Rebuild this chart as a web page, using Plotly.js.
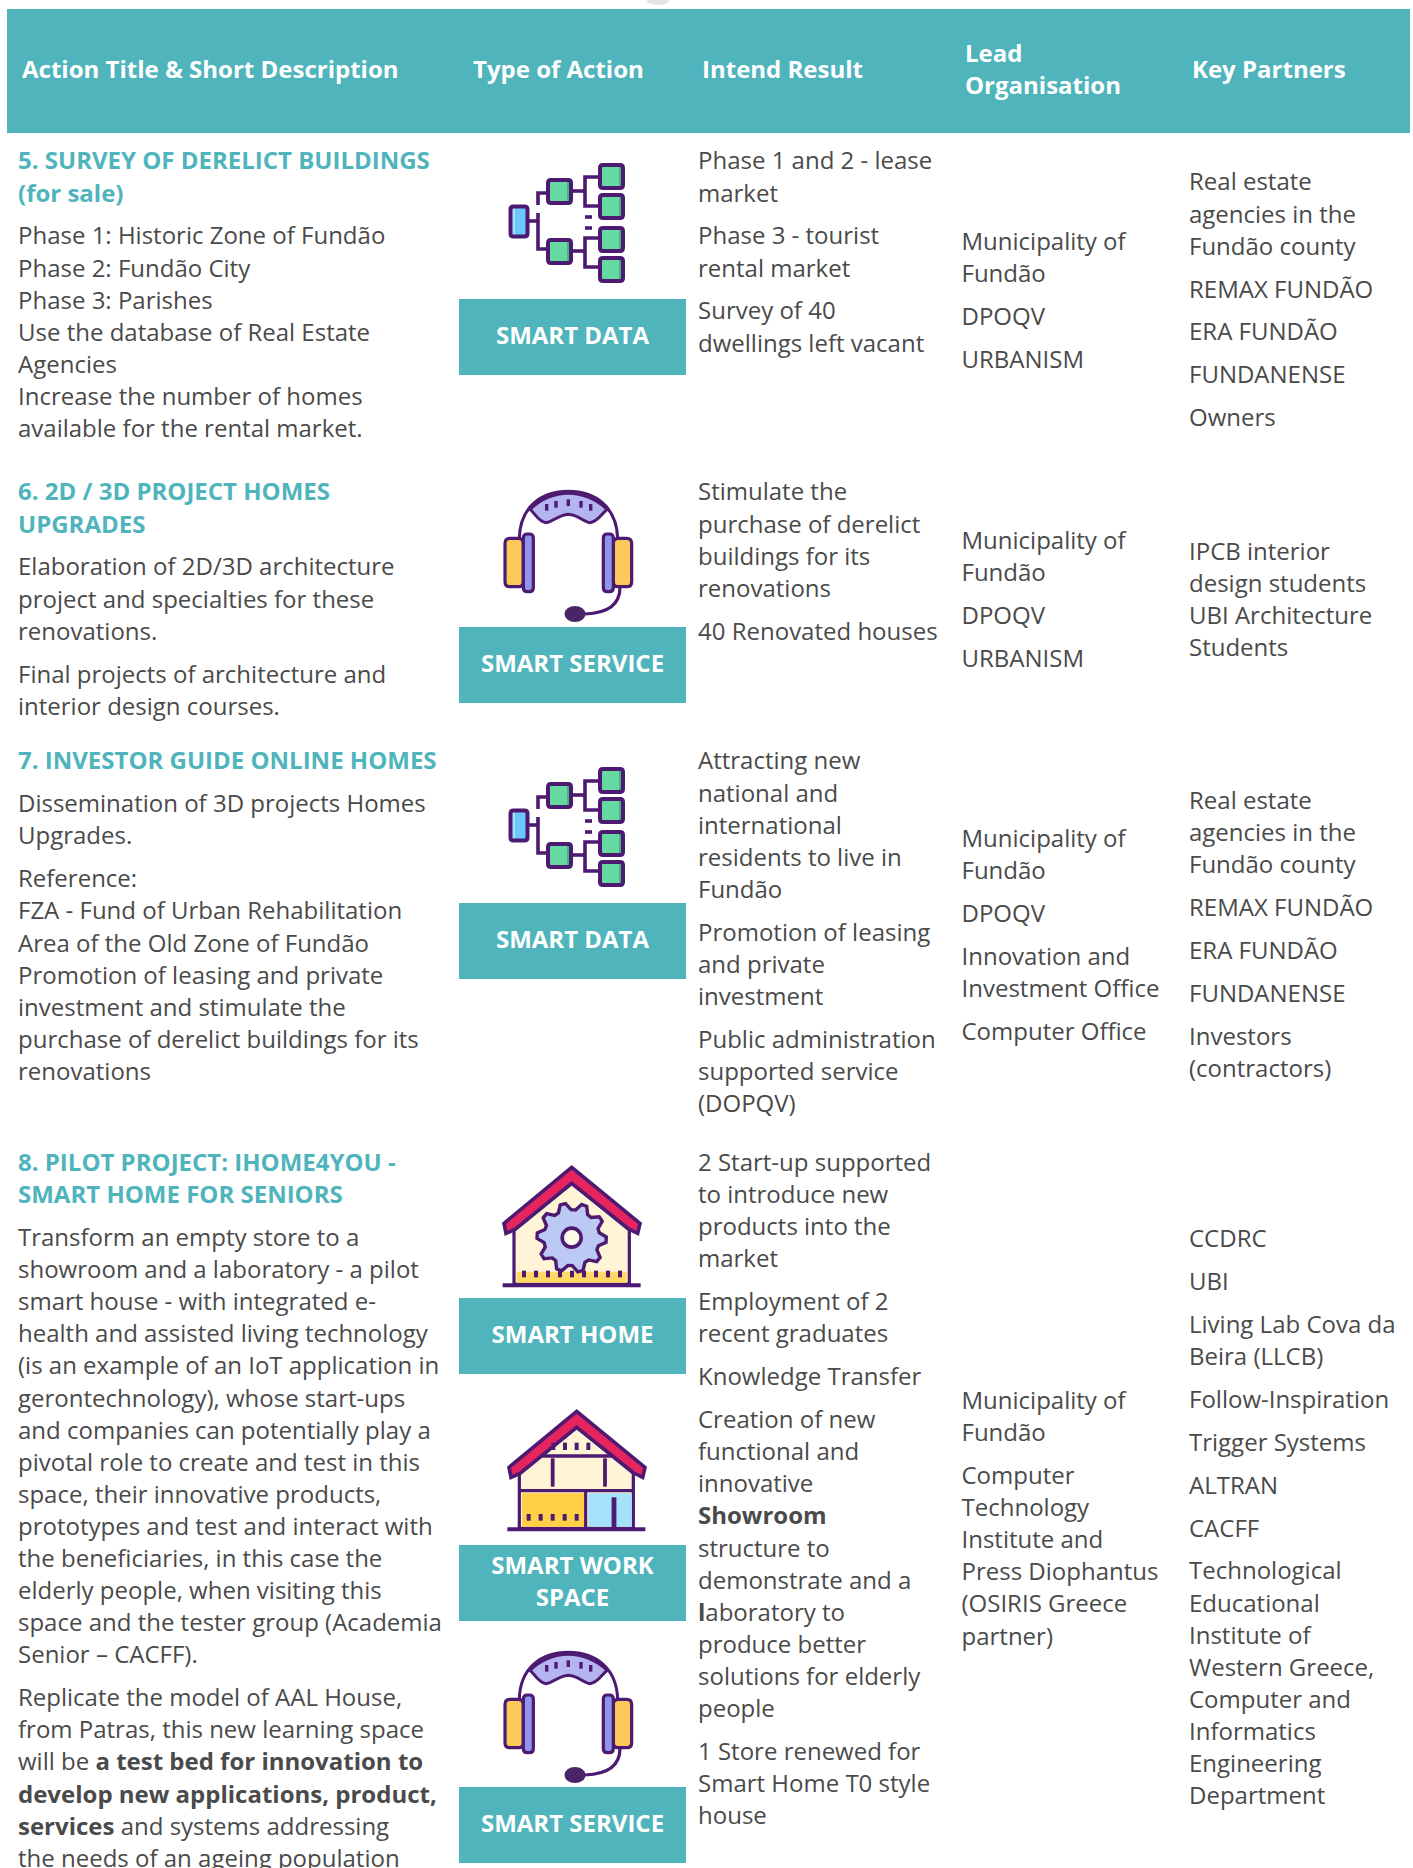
<!DOCTYPE html>
<html>
<head>
<meta charset="utf-8">
<script src="https://cdn.plot.ly/plotly-3.0.1.min.js"></script>
<style>html,body{margin:0;padding:0;background:#fff}#chart{width:1413px;height:1868px}</style>
</head>
<body>
<div id="chart"></div>
<script>
// ---------- Table content ----------
const headers = ["Action Title & Short Description", "Type of Action", "Intend Result", "Lead<br>Organisation", "Key Partners"];

const titles = [
  ["5. SURVEY OF DERELICT BUILDINGS", "(for sale)"],
  ["6. 2D / 3D PROJECT HOMES", "UPGRADES"],
  ["7. INVESTOR GUIDE ONLINE HOMES"],
  ["8. PILOT PROJECT: IHOME4YOU -", "SMART HOME FOR SENIORS"]
];
const descriptions = [
  [["Phase 1: Historic Zone of Fundão", "Phase 2: Fundão City", "Phase 3: Parishes", "Use the database of Real Estate", "Agencies", "Increase the number of homes", "available for the rental market."]],
  [["Elaboration of 2D/3D architecture", "project and specialties for these", "renovations."], ["Final projects of architecture and", "interior design courses."]],
  [["Dissemination of 3D projects Homes", "Upgrades."], ["Reference:", "FZA - Fund of Urban Rehabilitation", "Area of the Old Zone of Fundão", "Promotion of leasing and private", "investment and stimulate the", "purchase of derelict buildings for its", "renovations"]],
  [["Transform an empty store to a", "showroom and a laboratory - a pilot", "smart house - with integrated e-", "health and assisted living technology", "(is an example of an IoT application in", "gerontechnology), whose start-ups", "and companies can potentially play a", "pivotal role to create and test in this", "space, their innovative products,", "prototypes and test and interact with", "the beneficiaries, in this case the", "elderly people, when visiting this", "space and the tester group (Academia", "Senior – CACFF)."],
   ["Replicate the model of AAL House,", "from Patras, this new learning space", "will be <b>a test bed for innovation to</b>", "<b>develop new applications, product,</b>", "<b>services</b> and systems addressing", "the needs of an ageing population"]]
];
const results = [
  [["Phase 1 and 2 - lease", "market"], ["Phase 3 - tourist", "rental market"], ["Survey of 40", "dwellings left vacant"]],
  [["Stimulate the", "purchase of derelict", "buildings for its", "renovations"], ["40 Renovated houses"]],
  [["Attracting new", "national and", "international", "residents to live in", "Fundão"], ["Promotion of leasing", "and private", "investment"], ["Public administration", "supported service", "(DOPQV)"]],
  [["2 Start-up supported", "to introduce new", "products into the", "market"], ["Employment of 2", "recent graduates"], ["Knowledge Transfer"], ["Creation of new", "functional and", "innovative", "<b>Showroom</b>", "structure to", "demonstrate and a", "<b>l</b>aboratory to", "produce better", "solutions for elderly", "people"], ["1 Store renewed for", "Smart Home T0 style", "house"]]
];
const leads = [
  [["Municipality of", "Fundão"], ["DPOQV"], ["URBANISM"]],
  [["Municipality of", "Fundão"], ["DPOQV"], ["URBANISM"]],
  [["Municipality of", "Fundão"], ["DPOQV"], ["Innovation and", "Investment Office"], ["Computer Office"]],
  [["Municipality of", "Fundão"], ["Computer", "Technology", "Institute and", "Press Diophantus", "(OSIRIS Greece", "partner)"]]
];
const partners = [
  [["Real estate", "agencies in the", "Fundão county"], ["REMAX FUNDÃO"], ["ERA FUNDÃO"], ["FUNDANENSE"], ["Owners"]],
  [["IPCB interior", "design students", "UBI Architecture", "Students"]],
  [["Real estate", "agencies in the", "Fundão county"], ["REMAX FUNDÃO"], ["ERA FUNDÃO"], ["FUNDANENSE"], ["Investors", "(contractors)"]],
  [["CCDRC"], ["UBI"], ["Living Lab Cova da", "Beira (LLCB)"], ["Follow-Inspiration"], ["Trigger Systems"], ["ALTRAN"], ["CACFF"], ["Technological", "Educational", "Institute of", "Western Greece,", "Computer and", "Informatics", "Engineering", "Department"]]
];
const typeLabels = ["SMART DATA", "SMART SERVICE", "SMART DATA", "SMART HOME", "SMART WORK<br>SPACE", "SMART SERVICE"];

// ---------- Layout ----------
const TEAL = "#4fb4bb", TEXT = "#4a4a4a", PURPLE = "#4d1a72";
const FONT = "'Open Sans', sans-serif";
const LINE = 32.1, PARA = 42.9, BODY = 24, HEAD = 24;
const rowTop = [163.4, 494.4, 763.4, 1165];
const colX = {title: 18, result: 698, lead: 961.5, partner: 1189};
const leadTop = [244, 543, 841, 1403];
const partnerTop = [184.4, 554, 803, 1241];
const headerX = [22, 473, 702, 965, 1192];
const headerY = [72, 72, 72, 72, 72];
const boxTops = [299, 627, 903, 1298, 1545, 1787];
const BOX = {x0: 459, x1: 686, h: 76};

const tx = [], ty = [], tt = [], tc = [];
function put(x, y, s, c) { tx.push(x); ty.push(y); tt.push(s); tc.push(c); }
function block(x, y, paragraphs, color, bold) {
  paragraphs.forEach((p, i) => {
    if (i) y += PARA - LINE;
    p.forEach(l => { put(x, y, bold ? "<b>" + l + "</b>" : l, color); y += LINE; });
  });
  return y;
}
rowTop.forEach((top, r) => {
  let y = block(colX.title, top, [titles[r]], TEAL, true);
  block(colX.title, y + PARA - LINE, descriptions[r], TEXT);
  block(colX.result, top, results[r], TEXT);
  block(colX.lead, leadTop[r], leads[r], TEXT);
  block(colX.partner, partnerTop[r], partners[r], TEXT);
});

// ---------- Shapes ----------
const shapes = [];
const ICON_W = 4;
function rect(x0, y0, x1, y1, fill) {
  shapes.push({type: "rect", x0, y0, x1, y1, fillcolor: fill, line: {width: 0}, layer: "below"});
}
function path(d, fill, w, color) {
  shapes.push({type: "path", path: d, fillcolor: fill || "rgba(0,0,0,0)", line: {width: w === undefined ? ICON_W : w, color: color || PURPLE}, layer: "below"});
}
function rrectPath(x0, y0, x1, y1, r) {
  return `M${x0 + r},${y0} L${x1 - r},${y0} Q${x1},${y0} ${x1},${y0 + r} L${x1},${y1 - r} Q${x1},${y1} ${x1 - r},${y1} L${x0 + r},${y1} Q${x0},${y1} ${x0},${y1 - r} L${x0},${y0 + r} Q${x0},${y0} ${x0 + r},${y0} Z`;
}
function circ(cx, cy, rx, ry, fill, w) {
  shapes.push({type: "circle", x0: cx - rx, x1: cx + rx, y0: cy - ry, y1: cy + ry, fillcolor: fill, line: {width: w === undefined ? ICON_W : w, color: PURPLE}, layer: "below"});
}

rect(7, 9, 1410, 133, TEAL);
circ(658, 1, 11, 4, "#e4e4e4", 0);
boxTops.forEach(t => rect(BOX.x0, t, BOX.x1, t + BOX.h, TEAL));

function dataIcon(dy) {
  const Y = v => v + dy;
  const line = pts => path("M" + pts.map(p => p[0] + "," + Y(p[1])).join(" L"), null, 3.6);
  line([[529, 221], [538, 221]]);
  line([[538, 213], [538, 249], [547, 249]]);
  line([[538, 205], [538, 193], [547, 193]]);
  line([[572, 191], [585, 191]]);
  line([[599, 177], [585, 177], [585, 206], [599, 206]]);
  line([[572, 251], [585, 251]]);
  line([[599, 238], [585, 238], [585, 267], [599, 267]]);
  line([[585, 217], [592, 217]]);
  line([[585, 228], [592, 228]]);
  rect(511, Y(207), 527, Y(236), "#6cc8fb");
  rect(511, Y(207), 515, Y(236), "#a9dcf9");
  path(rrectPath(510.5, Y(206.5), 527.5, Y(236.5), 3), null);
  [[548, 180, 571, 203], [548, 240, 571, 263], [600, 165, 623, 188], [600, 195, 623, 218], [600, 228, 623, 251], [600, 258, 623, 281]].forEach(b => {
    rect(b[0], Y(b[1]), b[2], Y(b[3]), "#66d9a2");
    rect(b[2] - 4, Y(b[1]), b[2], Y(b[3]), "#45b583");
    path(rrectPath(b[0], Y(b[1]), b[2], Y(b[3]), 3), null);
  });
}
function headsetIcon(dy) {
  const P = (x, y) => (470 + x / 3) + "," + (470 + dy + y / 3);
  const X = x => 470 + x / 3, Y = y => 470 + dy + y / 3;
  path(`M${P(148, 205)} C${P(150, 110)} ${P(215, 64)} ${P(295, 64)} C${P(375, 64)} ${P(440, 110)} ${P(443, 205)}`, null, 3);
  path(`M${P(180, 118)} C${P(215, 85)} ${P(255, 70)} ${P(295, 70)} C${P(335, 70)} ${P(375, 85)} ${P(412, 118)} C${P(395, 130)} ${P(385, 155)} ${P(360, 158)} C${P(340, 155)} ${P(325, 135)} ${P(295, 133)} C${P(265, 135)} ${P(250, 155)} ${P(228, 158)} C${P(205, 155)} ${P(195, 130)} ${P(180, 118)} Z`, "#b3b4f0", 3);
  [[230, 112], [258, 103], [295, 98], [333, 103], [362, 112]].forEach(p => path(`M${P(p[0], p[1] - 10)} L${P(p[0], p[1] + 10)}`, null, 3.4));
  path(rrectPath(X(105), Y(205), X(160), Y(350), 5), "#fbc959", 3.2);
  path(rrectPath(X(160), Y(192), X(190), Y(365), 4), "#8f96ea", 3.2);
  path(rrectPath(X(430), Y(205), X(485), Y(350), 5), "#fbc959", 3.2);
  path(rrectPath(X(400), Y(192), X(430), Y(365), 4), "#8f96ea", 3.2);
  path(`M${P(450, 352)} C${P(450, 405)} ${P(410, 430)} ${P(345, 432)}`, null, 3.2);
  circ(X(315), Y(432), 10.5, 8, "#4a2468", 0);
}
function roof(ox, oy) {
  const P = (x, y) => (470 + ox + x / 3) + "," + (1140 + oy + y / 3);
  path(`M${P(305, 82)} L${P(102, 250)} L${P(108, 280)} L${P(135, 268)} L${P(305, 130)} L${P(478, 268)} L${P(503, 280)} L${P(510, 250)} Z`, "#e6255f", 3.6);
}
function homeIcon() {
  const P = (x, y) => (470 + x / 3) + "," + (1140 + y / 3);
  path(`M${P(132, 270)} L${P(305, 130)} L${P(478, 270)} L${P(478, 432)} L${P(132, 432)} Z`, "#fff5d6", 3.2);
  path(`M${P(140, 395)} L${P(470, 395)} L${P(470, 428)} L${P(140, 428)} Z`, "#ffd964", 0);
  roof(0, 0);
  const cx = 305, cy = 293, teeth = 10, pts = [];
  for (let i = 0; i < teeth * 4; i++) {
    const a = (i + 0.5) / (teeth * 4) * 2 * Math.PI;
    const R = (i % 4 < 2) ? 104 : 84;
    pts.push(P(cx + R * Math.cos(a - 0.1), cy + R * Math.sin(a - 0.1)));
  }
  path("M" + pts.join(" L") + " Z", "#bcc9f4", 3.4);
  circ(470 + cx / 3, 1140 + cy / 3, 9.5, 9.5, "#fffbea", 3.6);
  for (let i = 0; i < 9; i++) path(`M${P(162 + i * 36, 392)} L${P(162 + i * 36, 412)}`, null, 4);
  path(`M${P(98, 436)} L${P(512, 436)}`, null, 4);
}
function workIcon() {
  const P = (x, y) => (470 + x / 3) + "," + (1140 + y / 3);
  path(`M${P(148, 1000)} L${P(320, 862)} L${P(490, 1000)} L${P(490, 1165)} L${P(148, 1165)} Z`, "#fff5d6", 3.2);
  path(`M${P(156, 1060)} L${P(345, 1060)} L${P(345, 1160)} L${P(156, 1160)} Z`, "#ffd045", 0);
  path(`M${P(355, 1060)} L${P(485, 1060)} L${P(485, 1160)} L${P(355, 1160)} Z`, "#a6e1fb", 0);
  roof(5, 244);
  [[`M${P(215, 948)} L${P(425, 948)}`, 3.4], [`M${P(150, 1052)} L${P(490, 1052)}`, 3.4], [`M${P(248, 955)} L${P(248, 1040)}`, 3.8], [`M${P(405, 955)} L${P(405, 1040)}`, 3.8], [`M${P(347, 1052)} L${P(347, 1165)}`, 3.2], [`M${P(432, 1072)} L${P(432, 1165)}`, 4.8], [`M${P(112, 1168)} L${P(526, 1168)}`, 4]].forEach(s => path(s[0], null, s[1]));
  for (let i = 0; i < 5; i++) path(`M${P(176 + i * 36, 1122)} L${P(176 + i * 36, 1142)}`, null, 4);
  for (let i = 0; i < 4; i++) path(`M${P(250 + i * 35, 908)} L${P(250 + i * 35, 930)}`, null, 4);
}
dataIcon(0);
dataIcon(604);
headsetIcon(0);
headsetIcon(1161);
homeIcon();
workIcon();

// ---------- Figure ----------
const data = [
  {type: "scatter", mode: "text", x: tx, y: ty, text: tt, textposition: "middle right", hoverinfo: "skip", cliponaxis: false,
   textfont: {family: FONT, size: BODY, color: tc}},
  {type: "scatter", mode: "text", x: headerX, y: headerY, text: headers.map(h => "<b>" + h + "</b>"), textposition: "middle right", hoverinfo: "skip", cliponaxis: false,
   textfont: {family: FONT, size: HEAD, color: "#ffffff"}},
  {type: "scatter", mode: "text", x: boxTops.map(() => (BOX.x0 + BOX.x1) / 2), y: boxTops.map(t => t + BOX.h / 2 + 1), text: typeLabels.map(h => "<b>" + h + "</b>"), textposition: "middle center", hoverinfo: "skip", cliponaxis: false,
   textfont: {family: FONT, size: HEAD, color: "#ffffff"}}
];
const layout = {
  width: 1413, height: 1868, margin: {l: 0, r: 0, t: 0, b: 0, pad: 0},
  paper_bgcolor: "#fff", plot_bgcolor: "#fff", showlegend: false,
  xaxis: {range: [0, 1413], visible: false, fixedrange: true},
  yaxis: {range: [1868, 0], visible: false, fixedrange: true},
  shapes
};
Plotly.newPlot("chart", data, layout, {displayModeBar: false, staticPlot: true});
</script>
</body>
</html>
